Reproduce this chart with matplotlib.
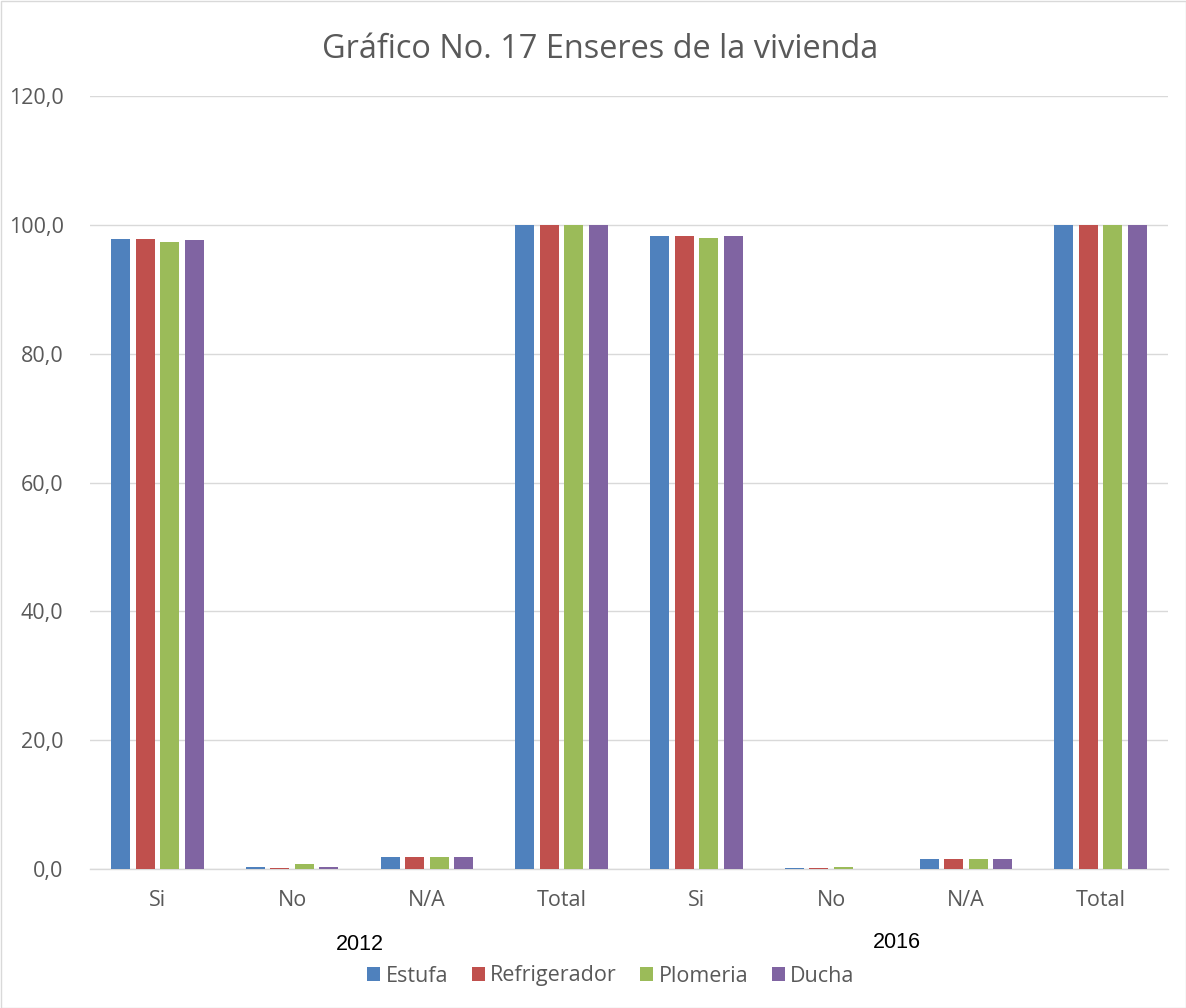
import matplotlib
matplotlib.use("Agg")
import matplotlib.pyplot as plt
import numpy as np
from matplotlib.patches import Rectangle

categories = ["Si", "No", "N/A", "Total", "Si", "No", "N/A", "Total"]
years = ["2012", "2016"]
series_names = ["Estufa", "Refrigerador", "Plomeria", "Ducha"]
estufa = [97.8, 0.3, 1.9, 100.0, 98.2, 0.2, 1.5, 100.0]
refrigerador = [97.8, 0.2, 1.9, 100.0, 98.2, 0.2, 1.5, 100.0]
plomeria = [97.3, 0.8, 1.9, 100.0, 98.0, 0.3, 1.5, 100.0]
ducha = [97.7, 0.3, 1.9, 99.9, 98.3, 0.0, 1.5, 100.0]
colors = ["#4f81bd", "#c0504d", "#9bbb59", "#8064a2"]

plt.rcParams['font.family'] = ['Open Sans', 'DejaVu Sans']
fig = plt.figure(figsize=(11.86, 10.08), dpi=100)
ax = fig.add_axes([90/1186, 1 - 869/1008, 1078/1186, (869-96)/1008])

x = np.arange(len(categories))
width = 0.141
pitch = 0.182
for i, (vals, c, n) in enumerate(zip([estufa, refrigerador, plomeria, ducha], colors, series_names)):
    ax.bar(x + (i - 1.5) * pitch, vals, width, color=c, label=n, zorder=3)

ax.set_xlim(-0.5, len(categories) - 0.5)
ax.set_ylim(0, 120)
ax.set_yticks(np.arange(0, 121, 20))
ax.set_yticklabels([f"{v:.1f}".replace(".", ",") for v in np.arange(0, 121, 20)],
                   fontsize=15.5, color="#595959")
ax.set_xticks(x)
ax.set_xticklabels(categories, fontsize=15.5, color="#595959")
ax.tick_params(axis='x', length=0, pad=15)
ax.tick_params(axis='y', length=0, pad=19)
ax.grid(axis='y', color="#d9d9d9", linewidth=1, zorder=0)
for s in ["top", "right", "left"]:
    ax.spines[s].set_visible(False)
ax.spines["bottom"].set_color("#d9d9d9")
ax.spines["bottom"].set_linewidth(1)

fig.text(600/1186, 1 - 50/1008, "Gráfico No. 17 Enseres de la vivienda", ha='center', va='center',
         fontsize=23.4, color="#595959")
fig.text(360/1186, 1 - 944/1008, years[0], ha='center', va='center', fontsize=15.5,
         family='Liberation Sans', color='black')
fig.text(897/1186, 1 - 942/1008, years[1], ha='center', va='center', fontsize=15.5,
         family='Liberation Sans', color='black')

leg = fig.legend(loc='center', bbox_to_anchor=(611/1186, 1 - 976/1008), ncol=4, frameon=False,
                 fontsize=15.5, handlelength=0.6, handleheight=0.6, handletextpad=0.25,
                 columnspacing=1.1)
for t in leg.get_texts():
    t.set_color("#595959")

fig.patches.append(Rectangle((0.5/1186, 0.5/1008), 1 - 1/1186, 1 - 1/1008, transform=fig.transFigure,
                             fill=False, edgecolor="#d9d9d9", linewidth=1))
fig.savefig("out.png", dpi=100)
